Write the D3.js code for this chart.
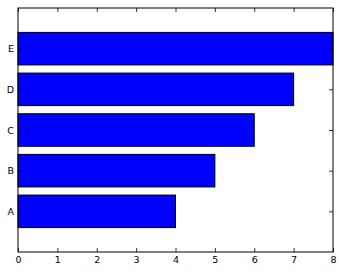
<!DOCTYPE html>
<html><head><meta charset="utf-8">
<script src="https://cdn.jsdelivr.net/npm/d3@7"></script>
<style>html,body{margin:0;padding:0;background:#fff;}svg{display:block;}</style>
</head><body>
<script>
const categories = ["A","B","C","D","E"];
const values = [4,5,6,7,8];
const xTicks = [0,1,2,3,4,5,6,7,8];

(function(){
const W = 339, H = 272;
const m = {left:18, top:8, right:333, bottom:252};
const svg = d3.select("body").append("svg").attr("width",W).attr("height",H);
const x = d3.scaleLinear().domain([0,8]).range([m.left,m.right]);
const y = d3.scaleLinear().domain([-1,5]).range([m.bottom,m.top]);
const font = "DejaVu Sans, sans-serif";

svg.append("g").selectAll("rect").data(categories).join("rect")
  .attr("x", x(0))
  .attr("y", (d,i)=>y(i+0.4))
  .attr("width", (d,i)=>x(values[i])-x(0))
  .attr("height", (d,i)=>y(i-0.4)-y(i+0.4))
  .attr("fill","#0000ff").attr("stroke","#000").attr("stroke-width",1);

const axB = d3.axisBottom(x).tickValues(xTicks).tickSizeInner(-4).tickSizeOuter(0).tickPadding(4);
const axT = d3.axisTop(x).tickValues(xTicks).tickSizeInner(-4).tickSizeOuter(0).tickFormat("");
const axL = d3.axisLeft(y).tickValues(d3.range(categories.length)).tickFormat(i=>categories[i]).tickSizeInner(-4).tickSizeOuter(0).tickPadding(4);
const axR = d3.axisRight(y).tickValues(d3.range(categories.length)).tickFormat("").tickSizeInner(-4).tickSizeOuter(0);

function style(g){
  g.select(".domain").remove();
  g.selectAll("line").attr("stroke","#000").attr("stroke-width",0.8);
  g.selectAll("text").attr("font-family",font).attr("font-size","9.5px").attr("fill","#000");
}
svg.append("g").attr("transform",`translate(0,${m.bottom})`).call(axB).call(style);
svg.append("g").attr("transform",`translate(0,${m.top})`).call(axT).call(style);
svg.append("g").attr("transform",`translate(${m.left},0)`).call(axL).call(style);
svg.append("g").attr("transform",`translate(${m.right},0)`).call(axR).call(style);

svg.append("rect").attr("x",m.left).attr("y",m.top).attr("width",m.right-m.left).attr("height",m.bottom-m.top)
  .attr("fill","none").attr("stroke","#000").attr("stroke-width",1);
})();
</script>
</body></html>
